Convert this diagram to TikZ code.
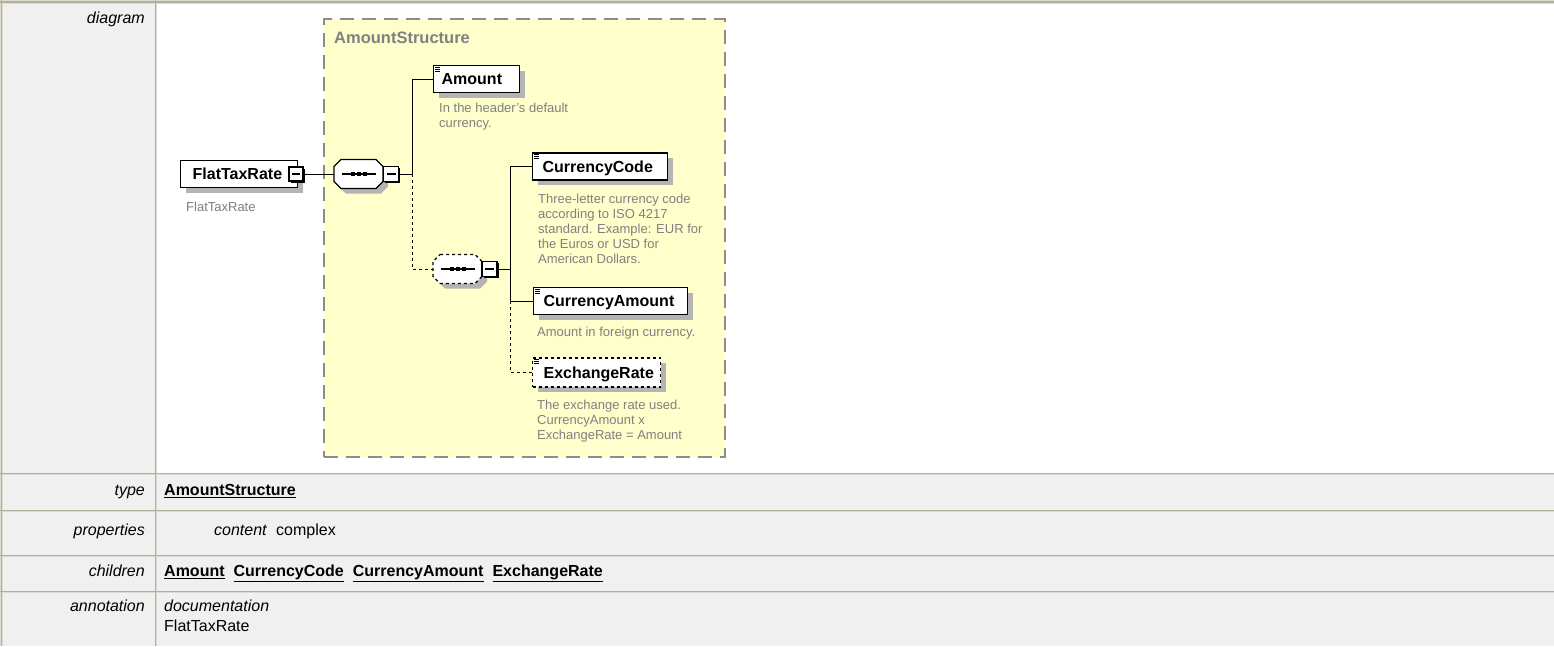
\documentclass[tikz,border=0pt]{standalone}
\usepackage{fontspec}
\setmainfont{Liberation Sans}
\usetikzlibrary{shadows}
\definecolor{bdark}{HTML}{B3AF9F}
\definecolor{blight}{HTML}{DEDBD0}
\definecolor{cellg}{HTML}{F0F0F0}
\definecolor{ylw}{HTML}{FFFFCC}
\definecolor{dgray}{HTML}{8C8C8C}
\definecolor{anng}{HTML}{808080}
\definecolor{shad}{HTML}{B4B4B4}
\newcommand\octo[5]{\path[#1] (#2-#4+7,#3-#5) -- (#2+#4-7,#3-#5) -- (#2+#4,#3-#5+7) -- (#2+#4,#3+#5-7) -- (#2+#4-7,#3+#5) -- (#2-#4+7,#3+#5) -- (#2-#4,#3+#5-7) -- (#2-#4,#3-#5+7) -- cycle;}
\begin{document}
\begin{tikzpicture}[x=1pt,y=-1pt,
  lab/.style={font=\fontsize{16}{19}\selectfont\itshape, anchor=mid east, inner sep=0pt},
  val/.style={font=\fontsize{16}{19}\selectfont, anchor=mid west, inner sep=0pt},
  elem/.style={anchor=west, draw=black, fill=white, line width=1.3pt, minimum height=27pt, inner ysep=0pt,
    text height=11.5pt, text depth=0pt, align=left, font=\fontsize{16}{19}\selectfont\bfseries,
    drop shadow={shadow xshift=5pt, shadow yshift=-5pt, fill=shad, opacity=1}},
  minusbox/.style={draw=black, fill=white, line width=1.5pt, minimum size=14pt, inner sep=0pt,
    drop shadow={shadow xshift=1.5pt, shadow yshift=-1.5pt, fill=black, opacity=1},
    path picture={\draw[line width=1.3pt] ([xshift=3pt]path picture bounding box.west) -- ([xshift=-3pt]path picture bounding box.east);}},
  compbox/.style={inner sep=0pt, minimum width=49pt, minimum height=29pt},
  conn/.style={line width=1pt, draw=black},
  dconn/.style={line width=1pt, draw=black, dash pattern=on 3pt off 3pt},
  ann/.style={font=\fontsize{13}{15}\selectfont, text=anng, align=left, anchor=north west, inner sep=0pt},
  icon/.style={line width=0.7pt, draw=black}
]
\useasboundingbox (0,0) rectangle (1554,646);
% ---------- table ----------
\fill[blight] (0,0) rectangle (1554,646);
\fill[bdark] (0,0.8) rectangle (1554,2.6);
\fill[bdark] (0.6,0) rectangle (1.8,646);
\fill[cellg] (2.75,3.75) rectangle (154.75,472.75);
\fill[white] (157.25,3.75) rectangle (1554,472.75);
\foreach \a/\b in {475.25/509.75, 512.25/554.75, 557.25/590.75, 593.25/646} {
  \fill[bdark] (0,\a-2.5) rectangle (1554,\a-1.25);
  \fill[cellg] (2.75,\a) rectangle (154.75,\b);
  \fill[cellg] (157.25,\a) rectangle (1554,\b);
}
\fill[bdark] (154.75,0) rectangle (156,646);
\node[lab] (ldiag) at (145,21) {diagram};
\node[lab] (ltype) at (145,493) {type};
\node[lab] (lprop) at (145,533) {properties};
\node[lab] (lchild) at (145,574) {children};
\node[lab] (lann) at (145,609) {annotation};
\node[val] (vtype) at (164,493) {\underline{\textbf{AmountStructure}}};
\node[val, font=\fontsize{16}{19}\selectfont\itshape] (vcont) at (214,533) {content};
\node[val] (vcomp) at (276,533) {complex};
\node[val] (vchild) at (164,574) {\underline{\textbf{Amount}}\hspace{9pt}\underline{\textbf{CurrencyCode}}\hspace{9pt}\underline{\textbf{CurrencyAmount}}\hspace{9pt}\underline{\textbf{ExchangeRate}}};
\node[val, font=\fontsize{16}{19}\selectfont\itshape] (vdoc) at (164,609) {documentation};
\node[val] (vftr) at (164,629) {FlatTaxRate};
% ---------- diagram ----------
\node[draw=dgray, fill=ylw, line width=1.5pt, dash pattern=on 14pt off 8pt, minimum width=401pt, minimum height=438pt, inner sep=0pt] (as) at (524.5,238) {};
\node[anchor=base west, inner sep=0pt, text=anng, font=\fontsize{16.5}{19}\selectfont\bfseries] (ast) at (334,43.3) {AmountStructure};
% compositor shapes
\octo{fill=shad}{363.5}{179}{24.5}{14.5}
\octo{draw=black, fill=white, line width=1.3pt}{358.5}{174}{24.5}{14.5}
\octo{fill=shad}{462.5}{274}{24.5}{14.5}
\octo{draw=black, fill=white, line width=1.3pt, dash pattern=on 3pt off 3pt}{457.5}{269}{24.5}{14.5}
\node[compbox] (c1) at (358.5,174) {};
\node[compbox] (c2) at (457.5,269) {};
\foreach \c in {c1,c2} {
  \draw[line width=1.5pt] ([xshift=-17pt]\c.center) -- ([xshift=17pt]\c.center);
  \foreach \d in {-6,0,6} \fill ([xshift=\d pt]\c.center) +(-2,-2) rectangle +(2,2);
}
% elements
\node[elem, minimum width=117pt, text width=93pt, inner xsep=12pt] (ftr) at (180,174) {FlatTaxRate};
\node[elem, minimum width=86pt, text width=70pt, inner xsep=8pt] (amt) at (433,79) {Amount};
\node[elem, minimum width=135pt, text width=115pt, inner xsep=10pt] (cc) at (532,166.5) {CurrencyCode};
\node[elem, minimum width=154pt, text width=134pt, inner xsep=10pt] (ca) at (533,301) {CurrencyAmount};
\node[elem, dash pattern=on 3pt off 3pt, minimum width=128pt, text width=106pt, inner xsep=11pt, minimum height=29pt] (er) at (532,372.5) {ExchangeRate};
\foreach \n in {amt,cc,ca,er} {
  \draw[icon] ([xshift=1.8pt,yshift=-2.2pt]\n.north west) -- ++(5.5,0) ++(-5.5,2) -- ++(5.5,0) ++(-5.5,2) -- ++(5.5,0);
}
% minus boxes
\node[minusbox] (m0) at (296,174) {};
\node[minusbox, minimum size=15pt] (m1) at (391,174) {};
\node[minusbox, minimum size=15pt] (m2) at (489.5,269) {};
% connectors
\coordinate (j1) at (412,174);
\coordinate (j2) at (510,269);
\draw[conn] (m0.east) -- (c1.west);
\draw[conn] (m1.east) -- (j1);
\draw[conn] (j1) |- (amt.west);
\draw[dconn] (j1) |- (c2.west);
\draw[conn] (m2.east) -- (j2);
\draw[conn] (j2) |- (cc.west);
\draw[conn] (j2) |- (ca.west);
\draw[dconn] (j2 |- ca.west) |- (er.west);
% annotations
\node[ann] (aftr) at (186,202) {FlatTaxRate};
\node[ann] (aamt) at (439,103) {In the header's default\\currency.};
\node[ann] (acc) at (538,194) {Three-letter currency code\\according to ISO 4217\\standard. Example: EUR for\\the Euros or USD for\\American Dollars.};
\node[ann] (aca) at (537,327) {Amount in foreign currency.};
\node[ann] (aer) at (537,400) {The exchange rate used.\\CurrencyAmount x\\ExchangeRate = Amount};
\end{tikzpicture}
\end{document}
